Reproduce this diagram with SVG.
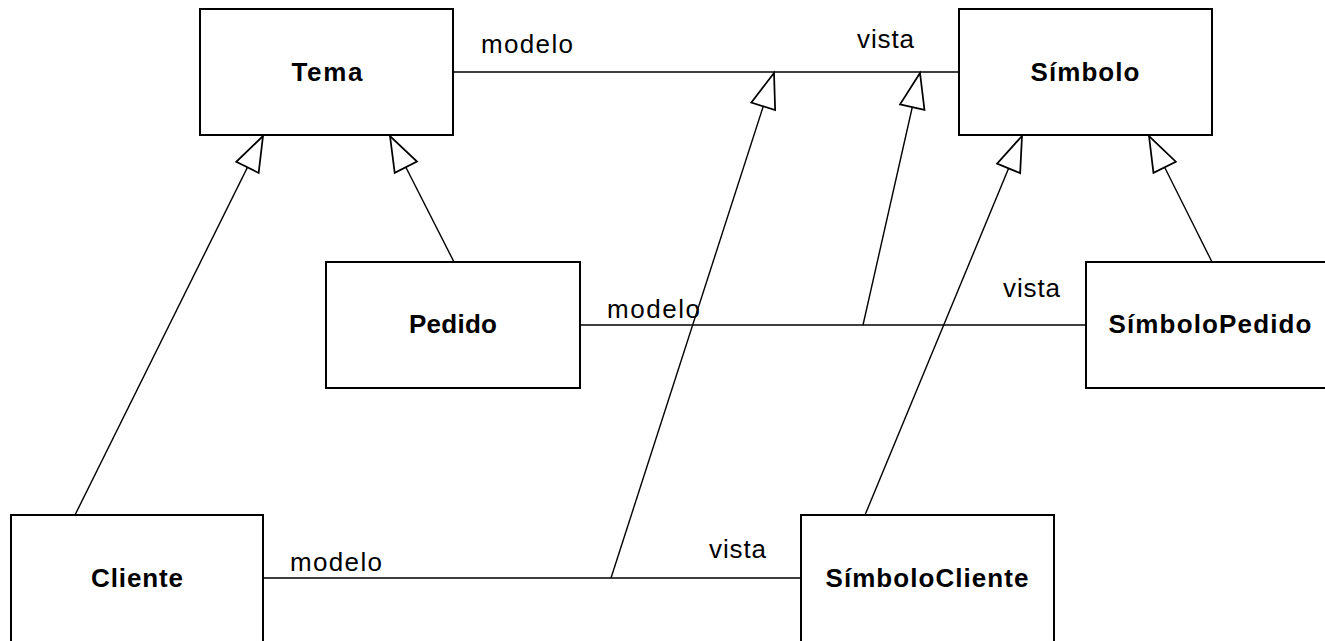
<svg xmlns="http://www.w3.org/2000/svg" width="1325" height="641" viewBox="0 0 1325 641">
<style>
.box{fill:#fff;stroke:#000;stroke-width:2}
.name{font-family:"Liberation Sans",Arial,sans-serif;font-weight:bold;font-size:26px;fill:#000;text-anchor:middle}
.lbl{font-family:"Liberation Sans",Arial,sans-serif;font-size:26px;fill:#000}
.ln{stroke:#000;stroke-width:1.4;fill:none}
.gen{stroke:#000;stroke-width:1.4;fill:none;marker-end:url(#tri)}
</style>
<defs>
<marker id="tri" markerUnits="userSpaceOnUse" markerWidth="40" markerHeight="30" viewBox="-30 -12 32 24" refX="0" refY="0" orient="auto" overflow="visible">
<path d="M0,0 L-28,-10 L-28,10 Z" fill="#fff" stroke="#000" stroke-width="1.4" stroke-linejoin="miter"/>
</marker>
</defs>
<rect width="1325" height="641" fill="#fff"/>
<g id="connectors">
<line class="ln" x1="453" y1="72" x2="959" y2="72"/>
<line class="ln" x1="580" y1="325" x2="1086" y2="325"/>
<line class="ln" x1="263" y1="578" x2="801" y2="578"/>
<line class="gen" x1="75" y1="515" x2="263" y2="136"/>
<line class="gen" x1="454" y1="262" x2="390" y2="136"/>
<line class="gen" x1="611" y1="578" x2="774" y2="73"/>
<line class="gen" x1="863" y1="325" x2="920" y2="73"/>
<line class="gen" x1="865" y1="515" x2="1022" y2="136"/>
<line class="gen" x1="1212" y1="262" x2="1149" y2="136"/>
<text class="lbl" x="481" y="53" textLength="92" lengthAdjust="spacing">modelo</text>
<text class="lbl" x="857" y="48" textLength="57" lengthAdjust="spacing">vista</text>
<text class="lbl" x="607" y="318" textLength="93" lengthAdjust="spacing">modelo</text>
<text class="lbl" x="1003" y="297" textLength="57" lengthAdjust="spacing">vista</text>
<text class="lbl" x="290" y="571" textLength="92" lengthAdjust="spacing">modelo</text>
<text class="lbl" x="709" y="558" textLength="57" lengthAdjust="spacing">vista</text>
</g>
<g id="tema">
<rect class="box" x="200" y="9" width="253" height="126"/>
<text class="name" x="327" y="81" textLength="71" lengthAdjust="spacing">Tema</text>
</g>
<g id="simbolo">
<rect class="box" x="959" y="9" width="253" height="126"/>
<text class="name" x="1085" y="81" textLength="109" lengthAdjust="spacing">Símbolo</text>
</g>
<g id="pedido">
<rect class="box" x="326" y="262" width="254" height="126"/>
<text class="name" x="453" y="333" textLength="88" lengthAdjust="spacing">Pedido</text>
</g>
<g id="simbolopedido">
<rect class="box" x="1086" y="262" width="253" height="126"/>
<text class="name" x="1210" y="333" textLength="203" lengthAdjust="spacing">SímboloPedido</text>
</g>
<g id="cliente">
<rect class="box" x="11" y="515" width="252" height="130"/>
<text class="name" x="137" y="587" textLength="92" lengthAdjust="spacing">Cliente</text>
</g>
<g id="simbolocliente">
<rect class="box" x="801" y="515" width="253" height="130"/>
<text class="name" x="927" y="587" textLength="203" lengthAdjust="spacing">SímboloCliente</text>
</g>
</svg>
